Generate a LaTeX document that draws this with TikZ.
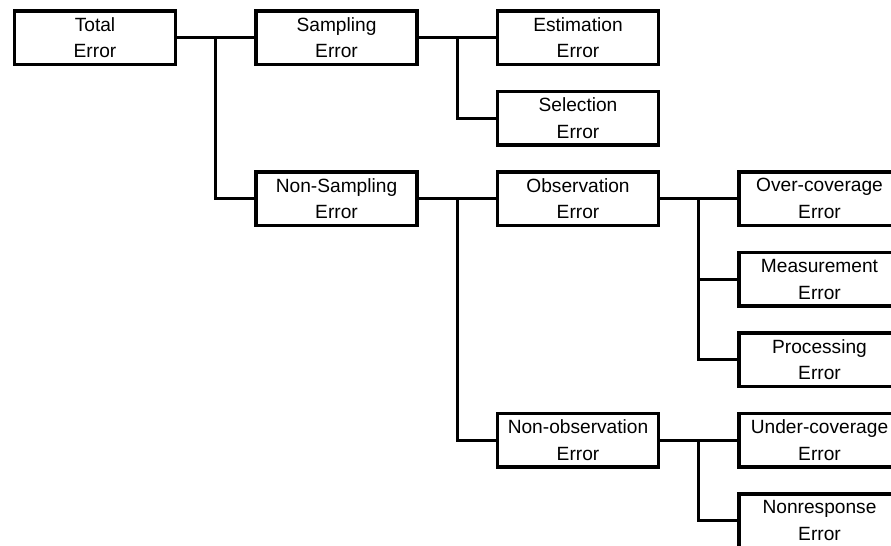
\documentclass[tikz,border=0pt]{standalone}
\usepackage{fontspec}
\setmainfont{Liberation Sans}
\usetikzlibrary{calc}

\begin{document}
\begin{tikzpicture}[x=0.02cm, y=-0.02cm,
  errbox/.style={rectangle, draw=black, line width=1.9pt, fill=white,
                 minimum width=3.22cm, minimum height=1.07cm, inner sep=0pt,
                 font=\fontsize{10.9}{15.3}\selectfont, align=center},
  conn/.style={line width=1.9pt, draw=black}
]
\fill[white] (0,0) rectangle (891,545);
\clip (0,0) rectangle (891,545);

\node[errbox] (total)  at (95,37.7)    {Total\\Error};
\node[errbox] (samp)   at (336.5,37.7) {Sampling\\Error};
\node[errbox] (nsamp)  at (336.5,198.7) {Non-Sampling\\Error};
\node[errbox] (estim)  at (578,37.7)   {Estimation\\Error};
\node[errbox] (selec)  at (578,118.2)  {Selection\\Error};
\node[errbox] (obs)    at (578,198.7)  {Observation\\Error};
\node[errbox] (nobs)   at (578,440.2)  {Non-observation\\Error};
\node[errbox] (overc)  at (819.5,198.7) {Over-coverage\\Error};
\node[errbox] (meas)   at (819.5,279.2) {Measurement\\Error};
\node[errbox] (proc)   at (819.5,359.7) {Processing\\Error};
\node[errbox] (underc) at (819.5,440.2) {Under-coverage\\Error};
\node[errbox] (nresp)  at (819.5,520.7) {Nonresponse\\Error};

\draw[conn] (total) -- (samp);
\draw[conn] ($(total.east)!.5!(samp.west)$) |- (nsamp.west);

\draw[conn] (samp) -- (estim);
\draw[conn] ($(samp.east)!.5!(estim.west)$) |- (selec.west);

\draw[conn] (nsamp) -- (obs);
\draw[conn] ($(nsamp.east)!.5!(obs.west)$) |- (nobs.west);

\draw[conn] (obs) -- (overc);
\draw[conn] ($(obs.east)!.5!(overc.west)$) |- (meas.west);
\draw[conn] ($(obs.east)!.5!(overc.west)$) |- (proc.west);

\draw[conn] (nobs) -- (underc);
\draw[conn] ($(nobs.east)!.5!(underc.west)$) |- (nresp.west);
\end{tikzpicture}
\end{document}
